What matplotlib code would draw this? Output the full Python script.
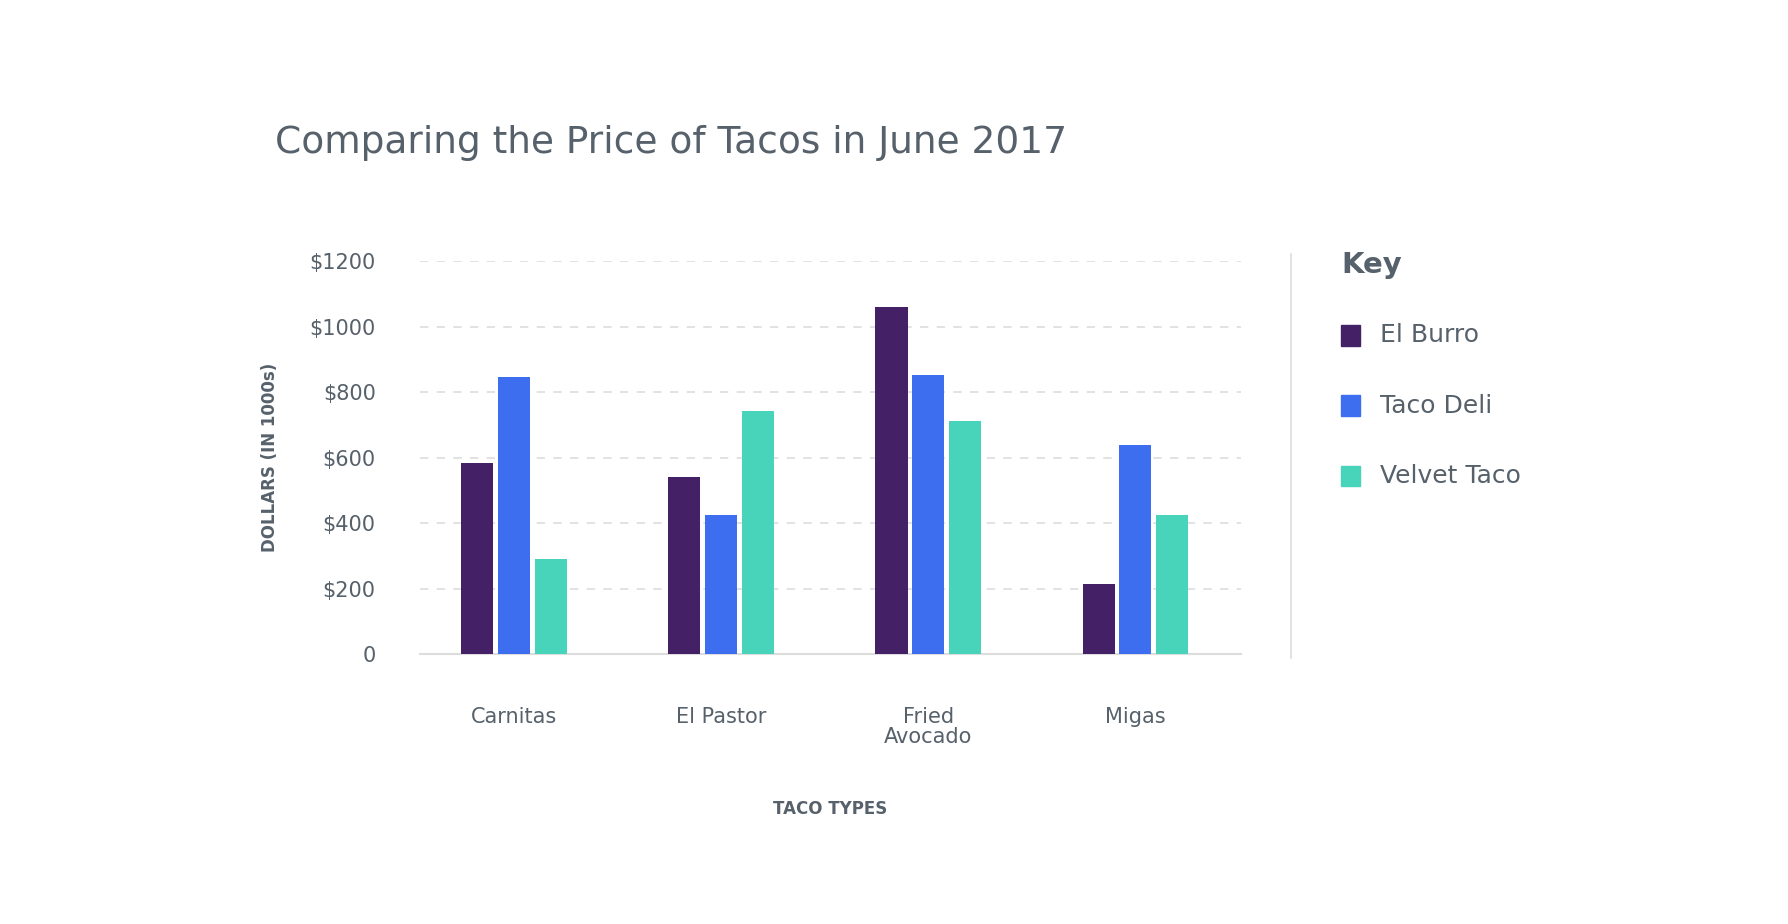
import numpy as np
import matplotlib.pyplot as plt
from matplotlib.patches import Rectangle
from matplotlib.lines import Line2D

categories = ["Carnitas", "El Pastor", "Fried\nAvocado", "Migas"]
series = ["El Burro", "Taco Deli", "Velvet Taco"]
el_burro = [585, 540, 1060, 215]
taco_deli = [848, 425, 852, 638]
velvet_taco = [292, 742, 713, 425]
colors = ["#442066", "#3d6ef0", "#48d4bb"]
yticks = [0, 200, 400, 600, 800, 1000, 1200]
yticklabels = ["0", "$200", "$400", "$600", "$800", "$1000", "$1200"]

txt = "#56616b"
fig = plt.figure(figsize=(17.88, 9.24), dpi=100)
ax = fig.add_axes([0.235, 0.292, 0.459, 0.425])

x = np.arange(len(categories))
w = 0.155
step = 0.177
for i, vals in enumerate([el_burro, taco_deli, velvet_taco]):
    ax.bar(x + (i - 1) * step, vals, w, color=colors[i], zorder=3)

ax.set_xlim(-0.453, 3.51)
ax.set_ylim(0, 1200)
ax.set_yticks(yticks)
ax.set_yticklabels(yticklabels)
ax.set_xticks(x)
ax.set_xticklabels(categories, linespacing=1.0)
ax.tick_params(length=0, labelsize=15, colors=txt)
ax.tick_params(axis="x", pad=38)
ax.tick_params(axis="y", pad=32)
for s in ["top", "right", "left"]:
    ax.spines[s].set_visible(False)
ax.spines["bottom"].set_color("#dddddd")
ax.spines["bottom"].set_linewidth(1.5)
ax.grid(axis="y", color="#dddddd", linestyle=(0, (5, 5)), linewidth=1.2, zorder=0)
ax.set_axisbelow(True)
ax.set_ylabel("DOLLARS (IN 1000s)", fontsize=12, fontweight="bold", color=txt, labelpad=22)
ax.set_xlabel("TACO TYPES", fontsize=12, fontweight="bold", color=txt, labelpad=38)

fig.text(0.154, 0.845, "Comparing the Price of Tacos in June 2017", fontsize=27, color=txt, va="center")

# key panel
fig.add_artist(Line2D([0.722, 0.722], [0.288, 0.725], color="#dddddd", lw=1.2))
fig.text(0.75, 0.713, "Key", fontsize=21, fontweight="bold", color=txt, va="center")
for i, name in enumerate(series):
    yc = 0.637 - i * 0.076
    fig.add_artist(Rectangle((0.75, yc - 0.011), 0.0105, 0.022, color=colors[i]))
    fig.text(0.772, yc, name, fontsize=18, color=txt, va="center")

fig.savefig("out.png")
